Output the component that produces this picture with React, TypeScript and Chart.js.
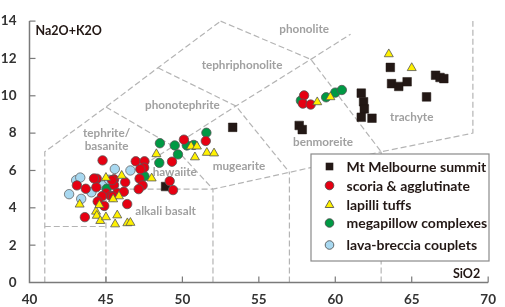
import React, { useEffect, useRef } from "react";
import { Chart, registerables } from "chart.js";

Chart.register(...registerables);

// ---------- data ----------
const summitX = [48.9, 53.29, 57.64, 57.84, 61.7, 61.85, 61.9, 61.7, 62.4, 63.6, 63.68, 64.15, 64.7, 65.97, 66.56, 66.85, 67.1];
const summitY = [5.14, 8.31, 8.41, 8.19, 10.14, 9.68, 9.3, 8.85, 8.8, 11.52, 10.65, 10.5, 10.75, 9.94, 11.1, 10.98, 10.92];

const scoriaX = [57.96, 57.88, 58.39, 50.1, 51.53, 49.32, 49.17, 49.39, 44.78, 46.95, 47.52, 47.5, 47.25, 44.4, 45.53, 46.26, 47.2, 47.4, 47.14, 43.1, 43.68, 44.37, 45.53, 45.02, 45.74, 46.17, 44.74, 45.32, 45.45, 44.46, 44.89, 46.39, 43.62, 44.22, 45.4];
const scoriaY = [10.02, 9.58, 9.53, 7.65, 7.58, 6.47, 5.43, 4.95, 6.54, 6.49, 6.49, 6.15, 6.07, 5.56, 5.53, 5.37, 5.56, 5.2, 5.0, 5.2, 5.02, 5.1, 5.22, 4.78, 4.8, 4.86, 4.62, 4.63, 4.6, 4.34, 4.1, 4.2, 3.5, 5.57, 5.48];

const lapilliX = [63.5, 65.0, 58.82, 59.68, 48.3, 50.57, 50.95, 50.82, 51.6, 52.07, 47.99, 45.0, 46.03, 43.28, 44.35, 44.4, 44.63, 45.0, 45.6, 45.74, 46.4, 46.6, 44.57, 45.85, 45.47];
const lapilliY = [12.23, 11.49, 9.66, 9.93, 6.88, 7.29, 7.29, 6.71, 6.95, 6.92, 5.58, 5.61, 5.72, 4.18, 3.8, 3.58, 3.3, 3.5, 3.12, 3.6, 3.18, 3.2, 4.15, 4.62, 4.46];

const megapillowX = [57.75, 59.4, 60.0, 60.43, 48.53, 48.49, 49.5, 49.71, 50.29, 50.74, 51.57, 47.52, 45.05];
const megapillowY = [9.74, 9.92, 10.17, 10.31, 7.46, 6.41, 7.34, 6.86, 7.34, 7.37, 8.02, 5.69, 5.02];

const brecciaX = [42.59, 43.05, 43.32, 43.38, 44.05, 44.82, 45.58, 46.6, 45.2];
const brecciaY = [4.73, 5.48, 5.62, 4.48, 4.83, 5.2, 6.08, 6.0, 5.5];

const seriesNames = ["Mt Melbourne summit", "scoria & agglutinate", "lapilli tuffs", "megapillow complexes", "lava-breccia couplets"];

// TAS field boundaries (SiO2, Na2O+K2O)
const tasBoundaries: number[][][] = [
  [[41, 0], [41, 7], [45, 9.4], [48.4, 11.5], [52.5, 14]],
  [[52.5, 14], [58.4, 11.95], [63, 7], [69, 8], [69, 14]],
  [[58.4, 11.95], [61, 13.3]],
  [[45, 9.4], [49.4, 7.3], [52, 5], [57, 5.9], [63, 7]],
  [[48.4, 11.5], [53.5, 9.45], [57, 5.9]],
  [[49.4, 7.3], [53.5, 9.45], [58.4, 11.95]],
  [[45, 5], [49.4, 7.3]],
  [[45, 0], [45, 5], [52, 5]],
  [[41, 3], [45, 3]],
  [[52, 0], [52, 5]],
  [[57, 0], [57, 5.9]],
  [[63, 0], [63, 7]],
];

const fieldNames = ["phonolite", "tephriphonolite", "phonotephrite", "tephrite/", "basanite", "hawaiite", "mugearite", "alkali basalt", "benmoreite", "trachyte"];
const fieldX = [57.96, 53.9, 50.0, 45.04, 45.04, 49.5, 53.7, 48.9, 59.2, 65.0];
const fieldY = [13.56, 11.66, 9.49, 7.98, 7.29, 5.9, 6.24, 3.81, 7.49, 8.87];

const xTicks = [45, 50, 55, 60, 65, 70];
const yTicks = [2, 4, 6, 8, 10, 12, 14];

const FONT = "Lato, 'Open Sans', 'DejaVu Sans', sans-serif";

const pts = (xs: number[], ys: number[]) => xs.map((x, i) => ({ x, y: ys[i] }));

const overlayPlugin = {
  id: "tasOverlay",
  beforeDatasetsDraw(chart: any) {
    const { ctx, scales } = chart;
    const xs = scales.x, ys = scales.y;
    ctx.save();
    // boundaries
    ctx.strokeStyle = "#b4b4b4";
    ctx.lineWidth = 1.2;
    ctx.setLineDash([6, 3]);
    tasBoundaries.forEach((line) => {
      ctx.beginPath();
      line.forEach(([x, y], i) => {
        const px = xs.getPixelForValue(x), py = ys.getPixelForValue(y);
        if (i === 0) ctx.moveTo(px, py); else ctx.lineTo(px, py);
      });
      ctx.stroke();
    });
    ctx.setLineDash([]);
    // field names
    ctx.fillStyle = "#a0a0a0";
    ctx.font = `bold 11.7px ${FONT}`;
    ctx.textAlign = "center";
    ctx.textBaseline = "middle";
    fieldNames.forEach((n, i) => {
      ctx.fillText(n, xs.getPixelForValue(fieldX[i]), ys.getPixelForValue(fieldY[i]));
    });
    // axes
    const a = chart.chartArea;
    ctx.strokeStyle = "#7a7a7a";
    ctx.lineWidth = 1.5;
    ctx.beginPath();
    ctx.moveTo(a.left, a.top);
    ctx.lineTo(a.left, a.bottom);
    ctx.lineTo(a.right, a.bottom);
    ctx.stroke();
    ctx.lineWidth = 1.2;
    xTicks.forEach((t) => {
      const px = xs.getPixelForValue(t);
      ctx.beginPath();
      ctx.moveTo(px, a.bottom);
      ctx.lineTo(px, a.bottom - 6);
      ctx.stroke();
    });
    yTicks.forEach((t) => {
      const py = ys.getPixelForValue(t);
      ctx.beginPath();
      ctx.moveTo(a.left, py);
      ctx.lineTo(a.left + 6, py);
      ctx.stroke();
    });
    // axis titles
    ctx.fillStyle = "#231815";
    ctx.font = `bold 12.5px ${FONT}`;
    ctx.textAlign = "left";
    ctx.textBaseline = "alphabetic";
    ctx.fillText("Na2O+K2O", a.left + 6, a.top + 14);
    ctx.textAlign = "right";
    ctx.fillText("SiO2", a.right - 8, a.bottom - 5);
    ctx.restore();
  },
  afterDraw(chart: any) {
    const { ctx } = chart;
    ctx.save();
    const bx = 311, by = 154, bw = 178, bh = 107;
    ctx.fillStyle = "#ffffff";
    ctx.fillRect(bx, by, bw, bh);
    ctx.strokeStyle = "#8a8a8a";
    ctx.lineWidth = 1.2;
    ctx.strokeRect(bx, by, bw, bh);
    const rows = [166.5, 185.5, 204.5, 223, 245];
    const mx = 329.5;
    ctx.font = `bold 14px ${FONT}`;
    ctx.textAlign = "left";
    ctx.textBaseline = "middle";
    rows.forEach((ry, i) => {
      ctx.lineWidth = 0.8;
      ctx.strokeStyle = "#444";
      if (i === 0) {
        ctx.fillStyle = "#231815";
        ctx.fillRect(mx - 3.8, ry - 3.8, 7.6, 7.6);
      } else if (i === 2) {
        ctx.fillStyle = "#fff100";
        ctx.beginPath();
        ctx.moveTo(mx, ry - 4.5);
        ctx.lineTo(mx + 4.3, ry + 3);
        ctx.lineTo(mx - 4.3, ry + 3);
        ctx.closePath();
        ctx.fill();
        ctx.stroke();
      } else {
        ctx.fillStyle = i === 1 ? "#e60012" : i === 3 ? "#009944" : "#a8d8f0";
        ctx.beginPath();
        ctx.arc(mx, ry, 4.3, 0, Math.PI * 2);
        ctx.fill();
        ctx.stroke();
      }
      ctx.fillStyle = "#231815";
      ctx.fillText(seriesNames[i], 346.5, ry + 0.5);
    });
    ctx.restore();
  },
};

export default function App() {
  const ref = useRef<HTMLCanvasElement>(null);
  useEffect(() => {
    if (!ref.current) return;
    const tickFont = { family: FONT, size: 13.5, weight: "bold" as const };
    const chart = new Chart(ref.current, {
      type: "scatter",
      data: {
        datasets: [
          {
            label: seriesNames[0], data: pts(summitX, summitY), pointStyle: "rect", pointRadius: 6.1,
            backgroundColor: "#231815", borderColor: "#231815", borderWidth: 0.5, order: 4,
          },
          {
            label: seriesNames[1], data: pts(scoriaX, scoriaY), pointStyle: "circle", pointRadius: 4.7,
            backgroundColor: "#e60012", borderColor: "#555555", borderWidth: 0.8, order: 1,
          },
          {
            label: seriesNames[2], data: pts(lapilliX, lapilliY), pointStyle: "triangle", pointRadius: 5.2,
            backgroundColor: "#fff100", borderColor: "#555555", borderWidth: 0.8, order: 0,
          },
          {
            label: seriesNames[3], data: pts(megapillowX, megapillowY), pointStyle: "circle", pointRadius: 4.7,
            backgroundColor: "#009944", borderColor: "#555555", borderWidth: 0.8, order: 2,
          },
          {
            label: seriesNames[4], data: pts(brecciaX, brecciaY), pointStyle: "circle", pointRadius: 4.7,
            backgroundColor: "#a8d8f0", borderColor: "#666666", borderWidth: 0.8, order: 3,
          },
        ] as any,
      },
      options: {
        animation: false,
        responsive: false,
        layout: { padding: { top: 7.5, right: 10, left: 0, bottom: 0 } },
        plugins: { legend: { display: false }, tooltip: { enabled: false } },
        scales: {
          x: {
            type: "linear", min: 40, max: 70,
            ticks: { stepSize: 5, font: tickFont, color: "#333333", padding: 9 },
            grid: { display: false, drawTicks: false },
            border: { display: false },
            afterFit: (s: any) => { s.height = 24.5; },
          },
          y: {
            type: "linear", min: 0, max: 14,
            ticks: { stepSize: 2, font: tickFont, color: "#333333", padding: 13 },
            grid: { display: false, drawTicks: false },
            border: { display: false },
            afterFit: (s: any) => { s.width = 29.5; },
          },
        },
      } as any,
      plugins: [overlayPlugin],
    });
    return () => chart.destroy();
  }, []);
  return (
    <div style={{ position: "fixed", left: 0, top: 0, width: 505, height: 307, background: "#fff" }}>
      <canvas ref={ref} width={505} height={307} style={{ display: "block", width: 505, height: 307 }} />
    </div>
  );
}
